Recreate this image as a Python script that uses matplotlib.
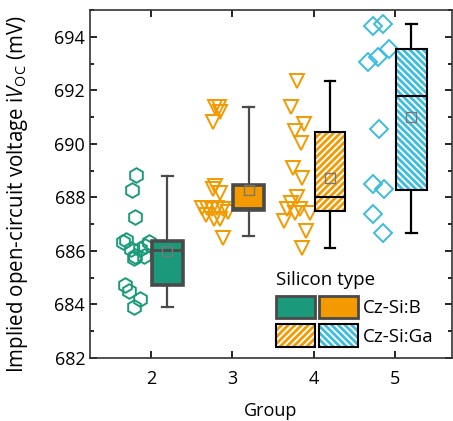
import matplotlib
matplotlib.use("Agg")
import matplotlib.pyplot as plt
from matplotlib.patches import Rectangle, Patch
from matplotlib.legend_handler import HandlerTuple, HandlerBase
from matplotlib.ticker import MultipleLocator

plt.rcParams['font.family'] = ['Open Sans', 'DejaVu Sans']
plt.rcParams['mathtext.fontset'] = 'custom'
plt.rcParams['mathtext.rm'] = 'Open Sans'
plt.rcParams['mathtext.it'] = 'Open Sans:italic'
plt.rcParams['hatch.linewidth'] = 2.0

# ---- data ----
groups = [2, 3, 4, 5]
colors = ['#1a9a7a', '#f39a00', '#f39a00', '#3bbde0']
hatches = [None, None, '/////', '\\\\\\\\\\']
markers = ['h', 'v', 'v', 'D']

g2_x = [1.82, 1.77, 1.80, 1.66, 1.69, 1.97, 1.93, 1.76, 1.86, 1.80, 1.91, 1.79, 1.68, 1.73, 1.86, 1.79]
g2_y = [688.83, 688.27, 687.25, 686.34, 686.40, 686.34, 686.19, 686.07, 686.07, 685.80, 685.80, 685.73,
        684.73, 684.50, 684.22, 683.90]
g3_x = [2.79, 2.83, 2.85, 2.76, 2.79, 2.76, 2.85, 2.63, 2.69, 2.75, 2.81, 2.89, 2.95, 2.67, 2.77, 2.85, 2.89]
g3_y = [691.36, 691.38, 691.20, 690.80, 688.43, 688.30, 688.17, 687.60, 687.60, 687.55, 687.60, 687.55,
        687.45, 687.35, 687.20, 687.20, 686.50]
g4_x = [3.80, 3.72, 3.88, 3.77, 3.84, 3.75, 3.85, 3.79, 3.72, 3.67, 3.83, 3.95, 3.63, 3.77, 3.91, 3.85]
g4_y = [692.33, 691.36, 690.74, 690.49, 690.05, 689.09, 688.72, 688.00, 687.80, 687.56, 687.56, 687.43,
        687.12, 687.43, 686.75, 686.12]
g5_x = [4.73, 4.85, 4.67, 4.79, 4.93, 4.80, 4.73, 4.86, 4.73, 4.85]
g5_y = [694.41, 694.47, 693.04, 693.23, 693.54, 690.55, 688.49, 688.31, 687.37, 686.66]
points_x = [g2_x, g3_x, g4_x, g5_x]
points_y = [g2_y, g3_y, g4_y, g5_y]

# box statistics
q1 = [684.72, 687.53, 687.50, 688.28]
med = [686.04, 687.60, 688.00, 691.80]
q3 = [686.37, 688.47, 690.46, 693.54]
whislo = [683.92, 686.56, 686.12, 686.66]
whishi = [688.80, 691.36, 692.36, 694.47]
means = [686.00, 688.28, 688.74, 691.00]

box_offset = 0.2
box_width = 0.38

fig = plt.figure(figsize=(4.53, 4.21), dpi=100)
ax = fig.add_axes([90 / 453, 1 - 358 / 421, 362 / 453, 348 / 421])

for i, g in enumerate(groups):
    ax.plot(points_x[i], points_y[i], linestyle='none', marker=markers[i],
            mfc='none', mec=colors[i], mew=1.4,
            ms={'h': 10.5, 'v': 10.5, 'D': 9}[markers[i]], zorder=3)

stats = []
for i in range(4):
    stats.append(dict(med=med[i], q1=q1[i], q3=q3[i], whislo=whislo[i], whishi=whishi[i],
                      mean=means[i], fliers=[]))

for i, g in enumerate(groups):
    solid = hatches[i] is None
    lc = '#4a4a4a' if solid else 'black'
    bp = ax.bxp([stats[i]], positions=[g + box_offset], widths=box_width,
                patch_artist=True, showmeans=True, showfliers=False,
                boxprops=dict(facecolor=colors[i], edgecolor=lc, linewidth=2.6 if solid else 1.5),
                medianprops=dict(color=lc, linewidth=2.0 if solid else 1.5),
                whiskerprops=dict(color=lc, linewidth=1.6),
                capprops=dict(color=lc, linewidth=1.6),
                capwidths=0.13,
                meanprops=dict(marker='s', mfc='none', mec='#777777', ms=7, mew=1.0))
    box = bp['boxes'][0]
    box.set_zorder(4)
    if not solid:
        box.set_facecolor('white')
        box.set_edgecolor(colors[i])
        box.set_hatch(hatches[i])
        box.set_linewidth(0)
        ax.add_patch(Rectangle((g + box_offset - box_width / 2, q1[i]), box_width, q3[i] - q1[i],
                               fill=False, edgecolor='black', linewidth=1.5, zorder=4.5))
    for k in ('medians', 'means'):
        for a in bp[k]:
            a.set_zorder(5)

ax.set_xlim(1.25, 5.7)
ax.set_ylim(682, 695)
ax.set_xticks(groups)
ax.set_xticklabels([str(g) for g in groups])
ax.yaxis.set_major_locator(MultipleLocator(2))
ax.yaxis.set_minor_locator(MultipleLocator(1))
ax.tick_params(which='both', direction='in', top=True, right=True, labelsize=13, width=1.2)
ax.tick_params(which='major', length=5)
ax.tick_params(which='minor', length=3)
ax.tick_params(axis='x', which='major', pad=9)
ax.tick_params(axis='x', which='minor', top=False, bottom=False)
for s in ax.spines.values():
    s.set_linewidth(1.2)
    s.set_color('#333333')

ax.set_xlabel('Group', fontsize=13, labelpad=10)
ax.set_ylabel(r'Implied open-circuit voltage i$V_{\mathrm{OC}}$ (mV)', fontsize=14.8)
ax.yaxis.set_label_coords(-0.165, 0.47)


class HatchedBox:
    def __init__(self, color, hatch):
        self.color = color
        self.hatch = hatch


class HandlerHatched(HandlerBase):
    def create_artists(self, legend, orig_handle, xdescent, ydescent, width, height, fontsize, trans):
        r1 = Rectangle((-xdescent, -ydescent), width, height, facecolor='white',
                       edgecolor=orig_handle.color, hatch=orig_handle.hatch, linewidth=0, transform=trans)
        r2 = Rectangle((-xdescent, -ydescent), width, height, fill=False,
                       edgecolor='black', linewidth=1.5, transform=trans)
        return [r1, r2]


h1 = (Patch(facecolor=colors[0], edgecolor='#4a4a4a', linewidth=2),
      Patch(facecolor=colors[1], edgecolor='#4a4a4a', linewidth=2))
h2 = (HatchedBox(colors[2], hatches[2]), HatchedBox(colors[3], hatches[3]))
leg = ax.legend([h1, h2], ['Cz-Si:B', 'Cz-Si:Ga'],
                handler_map={tuple: HandlerTuple(ndivide=None, pad=0.2), HatchedBox: HandlerHatched()},
                title='Silicon type', title_fontsize=13.5, fontsize=13.5, frameon=False,
                loc='lower right', bbox_to_anchor=(0.98, 0.0), alignment='left',
                handlelength=4.4, handleheight=1.45, handletextpad=0.25, labelspacing=0.35,
                borderaxespad=0.2)

fig.savefig('out.png', dpi=100)
